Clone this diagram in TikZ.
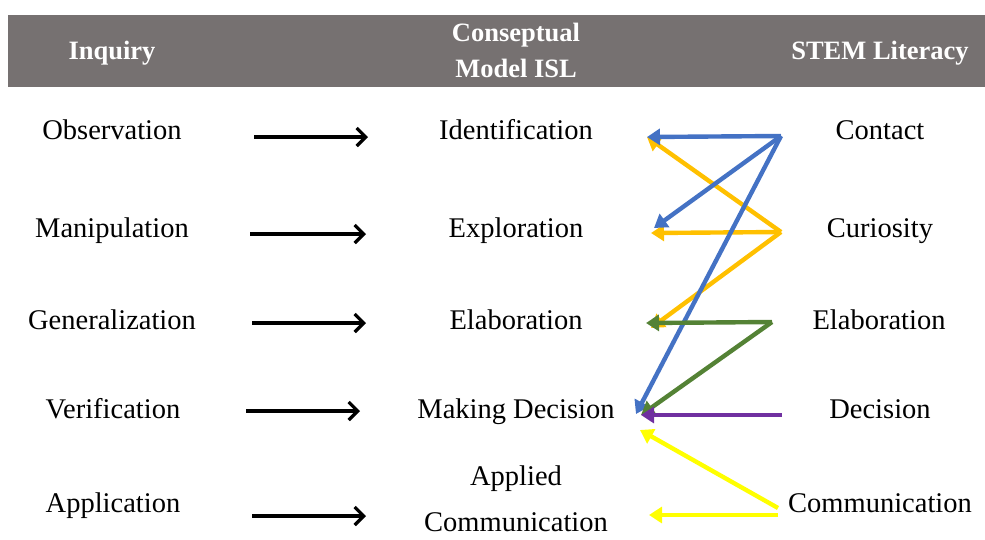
\documentclass[tikz,border=0pt]{standalone}
\usepackage{fontspec}
\setmainfont{Liberation Serif}
\usetikzlibrary{arrows.meta}

\definecolor{bargrey}{HTML}{767171}
\definecolor{mapblue}{HTML}{4472C4}
\definecolor{maporange}{HTML}{FFC000}
\definecolor{mapgreen}{HTML}{548235}
\definecolor{mappurple}{HTML}{7030A0}
\definecolor{mapyellow}{HTML}{FFFF00}

\begin{document}
\begin{tikzpicture}[x=1pt,y=-1pt]
		\tikzstyle{entry}=[font=\fontsize{28.5}{36}\selectfont,anchor=base,inner sep=0pt]
		\tikzstyle{headtext}=[entry,text=white,font=\fontsize{26.5}{36}\selectfont\bfseries]
		\tikzstyle{link}=[line width=3.3pt,arrows={-Straight Barb[length=9pt,width=18pt,line width=3.3pt]}]
		\tikzstyle{map}=[line width=4.4pt,arrows={-Triangle[length=13pt,width=16pt]}]
		
		\useasboundingbox (0,0) rectangle (985,539);
		\fill[bargrey] (8,15) rectangle (985,87);
		
		% header
		\node[headtext] (hinq) at (112,59) {Inquiry};
		\node[headtext,align=center,anchor=center] (hisl) at (516,50) {Conseptual\\Model ISL};
		\node[headtext] (hstem) at (880,59) {STEM Literacy};
		
		% inquiry
		\node[entry] (obs) at (112,139) {Observation};
		\node[entry] (man) at (112,237) {Manipulation};
		\node[entry] (gen) at (112,329) {Generalization};
		\node[entry] (ver) at (113,418) {Verification};
		\node[entry] (app) at (113,512) {Application};
		
		% conceptual model
		\node[entry] (ident) at (516,139) {Identification};
		\node[entry] (explo) at (516,237) {Exploration};
		\node[entry] (elab) at (516,329) {Elaboration};
		\node[entry] (mdec) at (516,418) {Making Decision};
		\node[entry,align=center,anchor=center,font=\fontsize{28.5}{46}\selectfont] (acom) at (516,499) {Applied\\Communication};
		
		% stem literacy
		\node[entry] (cont) at (880,139) {Contact};
		\node[entry] (curi) at (880,237) {Curiosity};
		\node[entry] (selab) at (879,329) {Elaboration};
		\node[entry] (sdec) at (880,418) {Decision};
		\node[entry] (scom) at (880,512) {Communication};
		
		% arrow ends
		\coordinate (obs-r) at (254,137);  \coordinate (ident-l) at (368,137);
		\coordinate (man-r) at (250,234);  \coordinate (explo-l) at (366,234);
		\coordinate (gen-r) at (252,323);  \coordinate (elab-l) at (366,323);
		\coordinate (ver-r) at (246,411);  \coordinate (mdec-l) at (360,411);
		\coordinate (app-r) at (252,516);  \coordinate (acom-l) at (366,516);
		
		\coordinate (ident-r) at (647,137);
		\coordinate (explo-r) at (654,228);
		\coordinate (explo-rr) at (651,233);
		\coordinate (elab-r) at (651,328);
		\coordinate (elab-rr) at (646,323);
		\coordinate (mdec-r) at (636,414);
		\coordinate (mdec-rr) at (641,415);
		\coordinate (mdec-rl) at (640,430);
		\coordinate (acom-r) at (649,515);
		
		\coordinate (cont-l) at (781,136);
		\coordinate (curi-l) at (781,232);
		\coordinate (selab-l) at (772,322);
		\coordinate (sdec-l) at (782,415);
		\coordinate (scom-l) at (778,508);
		\coordinate (scom-ll) at (778,515);
		
		\draw[link] (obs-r) -- (ident-l);
		\draw[link] (man-r) -- (explo-l);
		\draw[link] (gen-r) -- (elab-l);
		\draw[link] (ver-r) -- (mdec-l);
		\draw[link] (app-r) -- (acom-l);
		
		\draw[map,maporange] (curi-l) -- (ident-r);
		\draw[map,maporange] (curi-l) -- (explo-rr);
		\draw[map,maporange] (curi-l) -- (elab-r);
		\draw[map,mapblue] (cont-l) -- (ident-r);
		\draw[map,mapblue] (cont-l) -- (explo-r);
		\draw[map,mapblue] (cont-l) -- (mdec-r);
		\draw[map,mapgreen] (selab-l) -- (elab-rr);
		\draw[map,mapgreen] (selab-l) -- (mdec-rr);
		\draw[map,mappurple] (sdec-l) -- (mdec-rr);
		\draw[map,mapyellow] (scom-l) -- (mdec-rl);
		\draw[map,mapyellow] (scom-ll) -- (acom-r);
		\end{tikzpicture}
\end{document}
